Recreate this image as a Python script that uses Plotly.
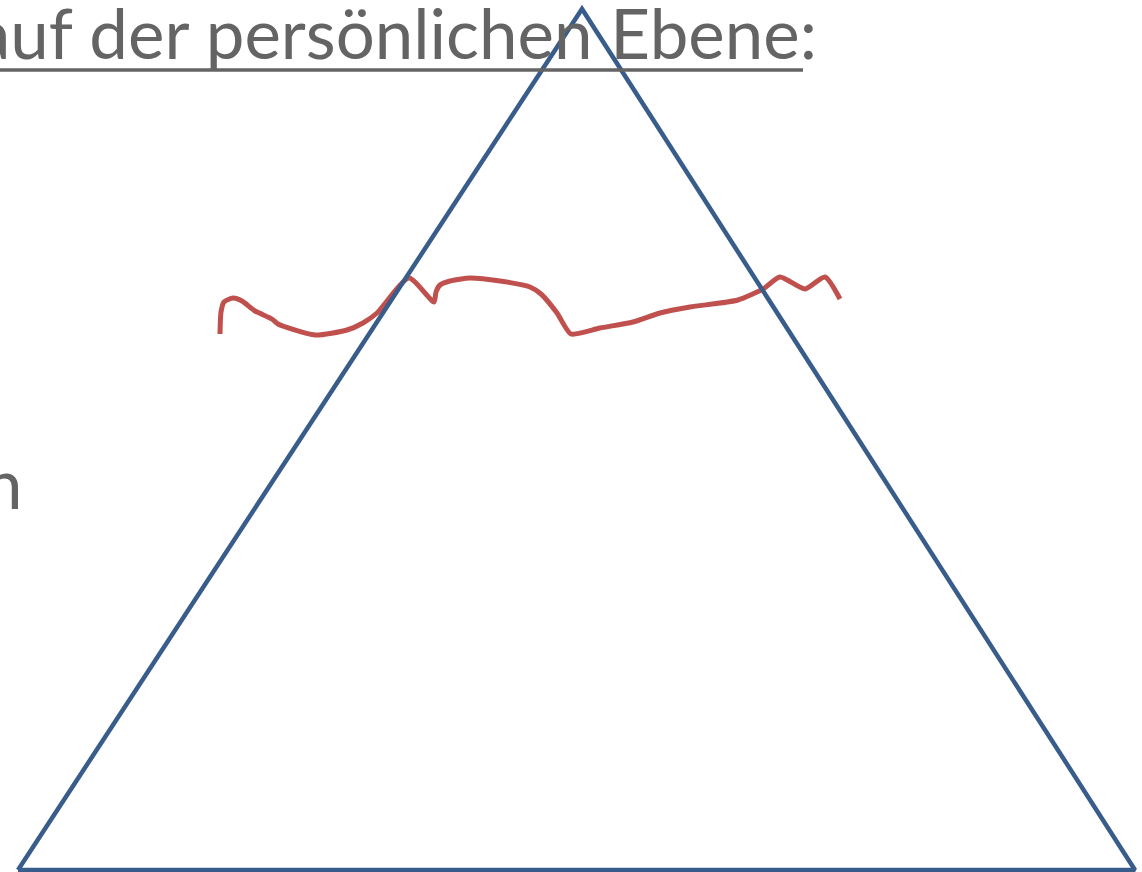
import plotly.graph_objects as go

# Triangle outline (pixel-like coordinates of the slide)
tri_x = [18, 582, 1135, 18]
tri_y = [870, 9, 870, 870]

# Red hand-drawn line
red_x = [220, 221, 224, 233, 242, 255, 272, 278, 315, 347, 363, 377, 409, 434, 436, 440, 450, 470, 500, 530, 541, 557, 571, 600, 633, 660, 690, 738, 763, 780, 805, 825, 840]
red_y = [334, 312, 302, 298, 301, 311, 319, 324, 335, 330, 323, 313, 278, 302, 292, 285, 281, 278, 281, 287, 294, 313, 334, 328, 322, 313, 307, 300, 289, 277, 289, 277, 299]

title_text = "auf der persönlichen Ebene:"
side_text = "n"

W, H = 1142, 872
fig = go.Figure()

fig.add_trace(go.Scatter(x=red_x, y=red_y, mode="lines",
                         line=dict(color="#C0504D", width=5, shape="spline", smoothing=0.6),
                         hoverinfo="skip", showlegend=False))
fig.add_trace(go.Scatter(x=tri_x, y=tri_y, mode="lines",
                         line=dict(color="#385D8A", width=4.5),
                         hoverinfo="skip", showlegend=False))

grey = "#646464"
fig.add_annotation(x=819, y=76, xref="x", yref="y", text=title_text, showarrow=False,
                   xanchor="right", yanchor="bottom",
                   font=dict(family="Lato", size=69, color=grey))
fig.add_annotation(x=25, y=526, xref="x", yref="y", text=side_text, showarrow=False,
                   xanchor="right", yanchor="bottom",
                   font=dict(family="Lato", size=69, color=grey))
# underline (colon not underlined)
fig.add_shape(type="line", x0=-10, x1=803, y0=70, y1=70, xref="x", yref="y",
              line=dict(color=grey, width=3.5))

fig.update_layout(width=W, height=H, margin=dict(l=0, r=0, t=0, b=0),
                  paper_bgcolor="white", plot_bgcolor="white",
                  xaxis=dict(range=[0, W], visible=False, fixedrange=True),
                  yaxis=dict(range=[H, 0], visible=False, fixedrange=True))
fig.write_html("out.html", config={"displayModeBar": False},
               post_script="document.body.style.margin='0px';document.body.style.overflow='hidden';")
